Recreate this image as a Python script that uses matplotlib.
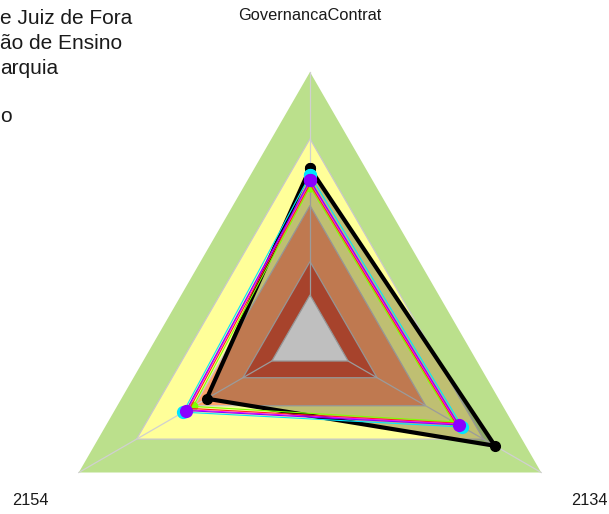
import numpy as np
import matplotlib
matplotlib.use("Agg")
import matplotlib.pyplot as plt
from matplotlib.patches import Polygon

plt.rcParams['font.family'] = ['Liberation Sans', 'DejaVu Sans']

# eixos do radar (sentido horario a partir do topo)
axis_labels = ["GovernancaContrat", "2134", "2154"]

# faixas de fundo (nivel relativo ao maximo) e cores
band_levels = [1.0, 0.75, 0.5, 0.29, 0.165]
band_colors = ["#BBE08C", "#FFFF99", "#FFA26C", "#E05A3C", "#FFFFFF"]

# series (valores relativos)
ref_values     = [0.639, 0.800, 0.447]   # linha preta
lime_values    = [0.570, 0.620, 0.505]
red_values     = [0.580, 0.630, 0.520]
magenta_values = [0.590, 0.637, 0.530]
cyan_values    = [0.614, 0.659, 0.548]
purple_values  = [0.595, 0.644, 0.536]

legend_lines = ["e Juiz de Fora", "ão de Ensino", "arquia", "", "o"]

angles = np.deg2rad(90 - 120 * np.arange(len(axis_labels)))


def to_xy(vals):
    vals = np.asarray(vals, dtype=float)
    return vals * np.cos(angles), vals * np.sin(angles)


fig = plt.figure(figsize=(6.09, 5.14), dpi=100)
ax = fig.add_axes([0, 0, 1, 1])
ax.set_xlim(-310 / 267, 299 / 267)
ax.set_ylim(-175 / 267, 339 / 267)
ax.axis('off')

# faixas
for lev, col in zip(band_levels, band_colors):
    x, y = to_xy([lev] * 3)
    ax.add_patch(Polygon(np.column_stack([x, y]), closed=True,
                         facecolor=col, edgecolor='none', zorder=1))
# grade
for lev in band_levels[1:]:
    x, y = to_xy([lev] * 3)
    ax.add_patch(Polygon(np.column_stack([x, y]), closed=True,
                         facecolor='none', edgecolor='#C8C8C8', lw=0.9, zorder=2))
xo, yo = to_xy([1.0] * 3)
xi0, yi0 = to_xy([band_levels[-1]] * 3)
for a0, b0, a1, b1 in zip(xi0, yi0, xo, yo):
    ax.plot([a0, a1], [b0, b1], color='#D0D0D0', lw=0.9, zorder=2)

# serie de referencia (preta, preenchida)
xr, yr = to_xy(ref_values)
ax.add_patch(Polygon(np.column_stack([xr, yr]), closed=True,
                     facecolor='black', alpha=0.25, edgecolor='none', zorder=3))
ax.plot(np.append(xr, xr[0]), np.append(yr, yr[0]), color='black', lw=3,
        marker='o', ms=7, zorder=4)

# demais series
series = [(lime_values, '#7FFF00', 6),
          (red_values, '#FF2020', 0),
          (magenta_values, '#FF00FF', 0),
          (cyan_values, '#00E5FF', 8.5),
          (purple_values, '#8A00FF', 8.5)]
for k, (vals, col, ms) in enumerate(series):
    x, y = to_xy(vals)
    ax.plot(np.append(x, x[0]), np.append(y, y[0]), color=col, lw=0.8,
            marker='o' if ms else None, ms=ms, zorder=5 + k)

# rotulos dos eixos
for lab, a in zip(axis_labels, angles):
    ax.text(1.21 * np.cos(a), 1.21 * np.sin(a), lab, ha='center', va='center',
            fontsize=11.8, color='#1A1A1A', zorder=20)

# legenda (cortada na borda esquerda)
baselines = [23.5, 49, 74, 98.5, 122]
for txt, b in zip(legend_lines, baselines):
    fig.text(0.0, 1 - b / 514, txt, ha='left', va='baseline',
             fontsize=15, color='#1A1A1A')

fig.savefig("out.png", dpi=100)
